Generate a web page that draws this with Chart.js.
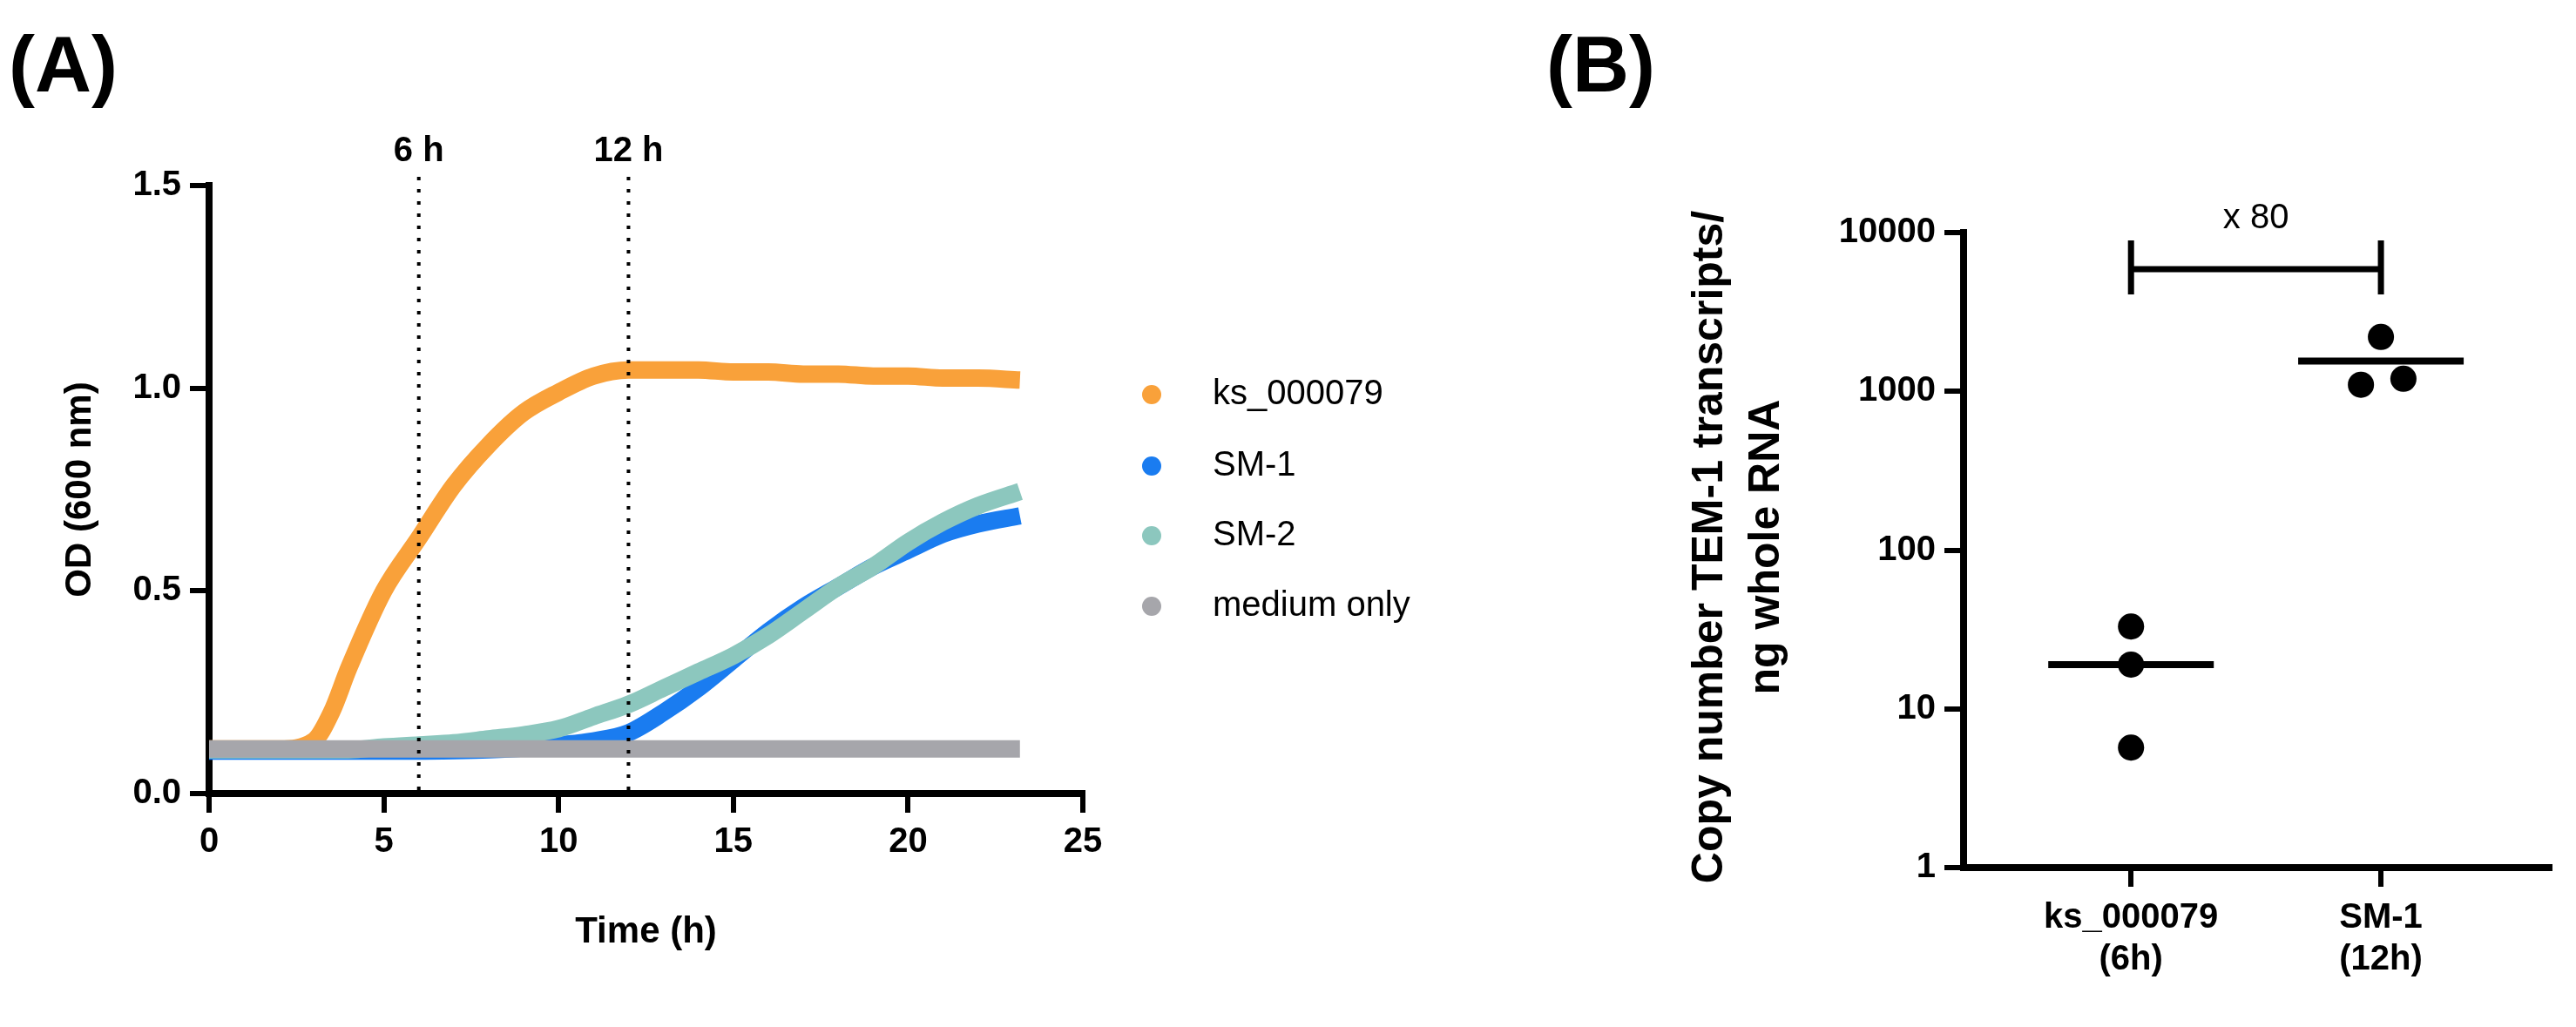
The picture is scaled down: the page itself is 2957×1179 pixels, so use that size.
<!DOCTYPE html><html><head><meta charset="utf-8">
<script src="https://cdn.jsdelivr.net/npm/chart.js@4"></script>
<style>body{margin:0;background:#fff;width:2957px;height:1179px;position:relative;overflow:hidden}
canvas{position:absolute;top:0}</style></head><body>
<canvas id="a" style="left:0;width:1700px;height:1179px" width="1700" height="1179"></canvas>
<canvas id="b" style="left:1700px;width:1257px;height:1179px" width="1257" height="1179"></canvas>
<script>
const hours=[0,1,2,3,3.5,4,5,6,7,8,9,10,11,12,13,14,15,16,17,18,19,20,21,22,23.2];
const ks=[0.11,0.11,0.11,0.13,0.2,0.31,0.5,0.63,0.76,0.86,0.94,0.99,1.03,1.045,1.045,1.045,1.04,1.04,1.035,1.035,1.03,1.03,1.025,1.025,1.02];
const sm1=[0.105,0.105,0.105,0.105,0.105,0.105,0.105,0.105,0.106,0.108,0.112,0.12,0.13,0.15,0.2,0.26,0.33,0.4,0.46,0.51,0.56,0.6,0.64,0.665,0.685];
const sm2=[0.108,0.108,0.108,0.108,0.108,0.108,0.115,0.12,0.125,0.135,0.145,0.16,0.19,0.22,0.26,0.3,0.34,0.39,0.45,0.51,0.56,0.62,0.67,0.71,0.745];
const med=[0.11,0.11,0.11,0.11,0.11,0.11,0.11,0.11,0.11,0.11,0.11,0.11,0.11,0.11,0.11,0.11,0.11,0.11,0.11,0.11,0.11,0.11,0.11,0.11,0.11];
const seriesNames=['ks_000079','SM-1','SM-2','medium only'];
const seriesColors=['#f9a13a','#1a7cf0','#8cc7be','#a6a6ab'];
const markers=[6,12];
const catB=['ks_000079|(6h)','SM-1|(12h)'];
const bKs=[33,19,5.7], bSm=[2200,1100,1200];
const bKsX=[1,1,1], bSmX=[2,1.92,2.09];
const medians=[19,1550];
const foldLabel='x 80';
const F='"Liberation Sans", Arial, sans-serif';
Chart.defaults.font.family=F;Chart.defaults.color='#000';
const pts=a=>a.map((v,i)=>({x:hours[i],y:v}));
const order=[3,2,1,0];const data=[med,sm2,sm1,ks];
const axisCommon={border:{color:'#000',width:8},grid:{drawOnChartArea:false,color:'#000',lineWidth:6,tickLength:22}};
function vText(x,t,cx,cy){x.save();x.translate(cx,cy);x.rotate(-Math.PI/2);x.textAlign='center';x.textBaseline='middle';x.fillText(t,0,0);x.restore();}
const plugA={id:'pa',afterDraw(c){const x=c.ctx,xs=c.scales.x,ys=c.scales.y;x.save();
x.setLineDash([4,10]);x.lineWidth=4;x.strokeStyle='#000';x.fillStyle='#000';x.textAlign='center';x.font='bold 40px '+F;
markers.forEach(m=>{const px=xs.getPixelForValue(m);x.beginPath();x.moveTo(px,ys.top-10);x.lineTo(px,ys.bottom);x.stroke();x.fillText(m+' h',px,185);});
x.setLineDash([]);x.font='bold 42px '+F;x.textBaseline='middle';x.fillText('Time (h)',(xs.left+xs.right)/2,1070);
vText(x,'OD (600 nm)',92,(ys.top+ys.bottom)/2);
x.font='bold 90px '+F;x.textAlign='left';x.textBaseline='alphabetic';x.fillText('(A)',10,105);
x.font='40px '+F;x.textBaseline='middle';const ly=[453,535,615,696];
seriesNames.forEach((n,i)=>{x.fillStyle=seriesColors[i];x.beginPath();x.arc(1322,ly[i],11,0,7);x.fill();x.fillStyle='#000';x.fillText(n,1392,ly[i]);});
x.restore();}};
new Chart(document.getElementById('a'),{type:'line',data:{datasets:order.map(k=>({data:pts(data[3-k]),borderColor:seriesColors[k],borderWidth:20,pointRadius:0,cubicInterpolationMode:'monotone',label:seriesNames[k]}))},
options:{responsive:false,animation:false,layout:{padding:{top:213,right:457,left:0,bottom:0}},plugins:{legend:{display:false},tooltip:{enabled:false}},
scales:{x:{type:'linear',min:0,max:25,...axisCommon,ticks:{stepSize:5,font:{size:40,weight:'bold'},padding:10},afterFit(s){s.height=268;}},
y:{min:0,max:1.5,...axisCommon,ticks:{stepSize:0.5,font:{size:40,weight:'bold'},padding:10,callback:v=>v.toFixed(1)},afterFit(s){s.width=240;}}}},plugins:[plugA]});
const plugB={id:'pb',afterDraw(c){const x=c.ctx,xs=c.scales.x,ys=c.scales.y;x.save();x.strokeStyle='#000';x.lineWidth=8;
medians.forEach((m,i)=>{const px=xs.getPixelForValue(i+1),py=ys.getPixelForValue(m);x.beginPath();x.moveTo(px-95,py);x.lineTo(px+95,py);x.stroke();});
const x1=xs.getPixelForValue(1),x2=xs.getPixelForValue(2);x.lineWidth=7;x.beginPath();x.moveTo(x1,276);x.lineTo(x1,338);x.moveTo(x2,276);x.lineTo(x2,338);x.moveTo(x1,309);x.lineTo(x2,309);x.stroke();
x.fillStyle='#000';x.font='40px '+F;x.textAlign='center';x.fillText(foldLabel,(x1+x2)/2,262);
x.font='bold 50px '+F;vText(x,'Copy number TEM-1 transcripts/',263,628);vText(x,'ng whole RNA',328,628);
x.font='bold 90px '+F;x.textAlign='left';x.fillText('(B)',75,105);x.restore();}};
new Chart(document.getElementById('b'),{type:'scatter',data:{datasets:[{data:bKs.map((v,i)=>({x:bKsX[i],y:v})),backgroundColor:'#000',pointRadius:15},{data:bSm.map((v,i)=>({x:bSmX[i],y:v})),backgroundColor:'#000',pointRadius:15}]},
options:{responsive:false,animation:false,layout:{padding:{top:267,right:30,left:0,bottom:0}},plugins:{legend:{display:false},tooltip:{enabled:false}},
scales:{x:{type:'linear',min:0.33,max:2.676,...axisCommon,afterBuildTicks(s){s.ticks=[{value:1},{value:2}];},ticks:{font:{size:40,weight:'bold'},padding:12,callback:v=>catB[v-1].split('|')},afterFit(s){s.height=183;}},
y:{type:'logarithmic',min:1,max:10000,...axisCommon,afterBuildTicks(s){s.ticks=[1,10,100,1000,10000].map(v=>({value:v}));},ticks:{font:{size:40,weight:'bold'},padding:10,callback:v=>String(v)},afterFit(s){s.width=554;}}}},plugins:[plugB]});
</script></body></html>
